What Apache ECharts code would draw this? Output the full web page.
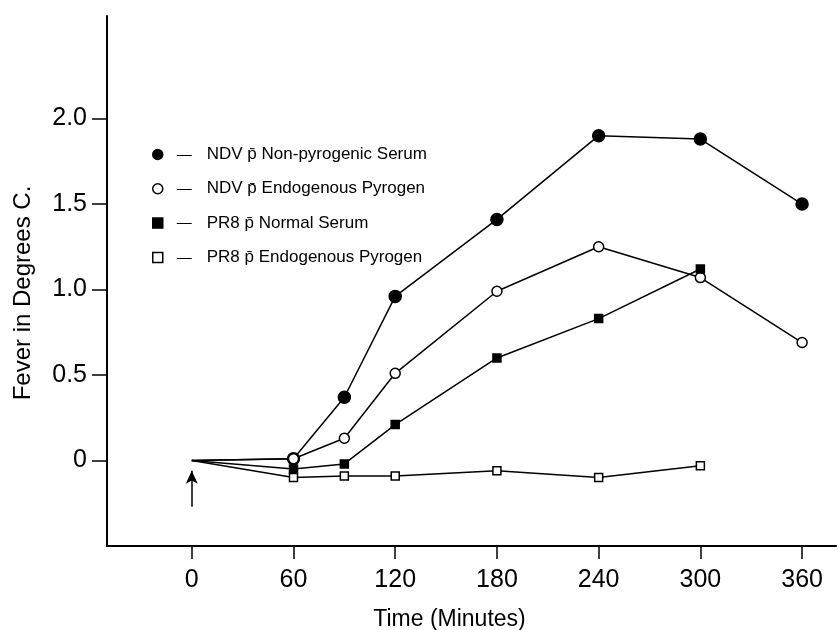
<!DOCTYPE html>
<html>
<head>
<meta charset="utf-8">
<script src="https://cdn.jsdelivr.net/npm/echarts@6/dist/echarts.min.js"></script>
<style>
html,body{margin:0;padding:0;background:#fff;}
#chart{width:838px;height:630px;}
</style>
</head>
<body>
<div id="chart"></div>
<script>
// ---- data ----
const seriesNames = [
  'NDV p\u0304 Non-pyrogenic Serum',
  'NDV p\u0304 Endogenous Pyrogen',
  'PR8 p\u0304 Normal Serum',
  'PR8 p\u0304 Endogenous Pyrogen'
];
const timesNDV = [0, 60, 90, 120, 180, 240, 300, 360];
const timesPR8 = [0, 60, 90, 120, 180, 240, 300];
const ndvNonPyrogenic = [0, 0.01, 0.37, 0.96, 1.41, 1.90, 1.88, 1.50];
const ndvEndoPyrogen  = [0, 0.01, 0.13, 0.51, 0.99, 1.25, 1.07, 0.69];
const pr8NormalSerum  = [0, -0.05, -0.02, 0.21, 0.60, 0.83, 1.12];
const pr8EndoPyrogen  = [0, -0.10, -0.09, -0.09, -0.06, -0.10, -0.03];
const xTicks = [0, 60, 120, 180, 240, 300, 360];
const yTicks = [0, 0.5, 1.0, 1.5, 2.0];
const arrowFrom = [0, -0.27];
const arrowTo = [0, -0.06];

const FONT = 'Liberation Sans';

function build(times, vals) {
  return times.map((t, i) => i === 0 ? { value: [t, vals[i]], symbol: 'none' } : [t, vals[i]]);
}

const symbolDefs = [
  { symbol: 'circle', size: 12, fill: '#000' },
  { symbol: 'circle', size: 10, fill: '#fff' },
  { symbol: 'rect', size: 8, fill: '#000' },
  { symbol: 'rect', size: 8, fill: '#fff' }
];
const dataSets = [
  build(timesNDV, ndvNonPyrogenic),
  build(timesNDV, ndvEndoPyrogen),
  build(timesPR8, pr8NormalSerum),
  build(timesPR8, pr8EndoPyrogen)
];

const series = dataSets.map((d, i) => ({
  name: seriesNames[i],
  type: 'line',
  data: d,
  symbol: symbolDefs[i].symbol,
  symbolSize: symbolDefs[i].size,
  showSymbol: true,
  lineStyle: { color: '#000', width: 1.5 },
  itemStyle: { color: symbolDefs[i].fill, borderColor: '#000', borderWidth: 1.5, opacity: 1 },
  z: 3 + i,
  animation: false
}));

series[0].markLine = {
  silent: true,
  animation: false,
  symbol: ['none', 'arrow'],
  symbolSize: [9, 13],
  label: { show: false },
  lineStyle: { color: '#000', width: 1.5, type: 'solid' },
  data: [[{ coord: arrowFrom }, { coord: arrowTo }]]
};

const chart = echarts.init(document.getElementById('chart'), null, { renderer: 'canvas' });
chart.setOption({
  backgroundColor: '#fff',
  animation: false,
  grid: { left: 107, right: 2, top: 16, bottom: 84, containLabel: false, outerBoundsMode: 'none' },
  legend: {
    orient: 'vertical',
    left: 147,
    top: 141,
    itemWidth: 10,
    itemHeight: 10,
    itemGap: 17.3,
    selectedMode: false,
    data: seriesNames.map((n, i) => ({
      name: n,
      icon: symbolDefs[i].symbol,
      itemStyle: { color: symbolDefs[i].fill, borderColor: '#000', borderWidth: 1.5 }
    })),
    formatter: n => '{d|\u2014}{t|' + n + '}',
    textStyle: {
      fontFamily: FONT,
      fontSize: 17,
      color: '#000',
      rich: {
        d: { fontFamily: FONT, fontSize: 15, width: 30, padding: [0, 0, 0, 9], color: '#000' },
        t: { fontFamily: FONT, fontSize: 17, color: '#000' }
      }
    }
  },
  xAxis: {
    type: 'value',
    min: -50,
    max: 380,
    name: 'Time (Minutes)',
    nameLocation: 'middle',
    nameGap: 62,
    nameTextStyle: { fontFamily: FONT, fontSize: 23, color: '#000', padding: [0, 44, 0, 0] },
    axisLine: { show: true, onZero: false, lineStyle: { color: '#000', width: 2 } },
    axisTick: { show: true, customValues: xTicks, length: 13, lineStyle: { color: '#000', width: 1.5 } },
    axisLabel: { customValues: xTicks, margin: 22, fontFamily: FONT, fontSize: 25, color: '#000' },
    splitLine: { show: false }
  },
  yAxis: {
    type: 'value',
    min: -0.5,
    max: 2.6,
    name: 'Fever in Degrees C.',
    nameLocation: 'middle',
    nameGap: 72,
    nameRotate: 90,
    nameTextStyle: { fontFamily: FONT, fontSize: 24, color: '#000', padding: [0, 24, 0, 0] },
    axisLine: { show: true, onZero: false, lineStyle: { color: '#000', width: 2 } },
    axisTick: { show: true, customValues: yTicks, length: 15, lineStyle: { color: '#000', width: 1.5 } },
    axisLabel: {
      customValues: yTicks, margin: 20, fontFamily: FONT, fontSize: 25, color: '#000',
      formatter: v => v === 0 ? '0' : v.toFixed(1)
    },
    splitLine: { show: false }
  },
  series: series
});
</script>
</body>
</html>
